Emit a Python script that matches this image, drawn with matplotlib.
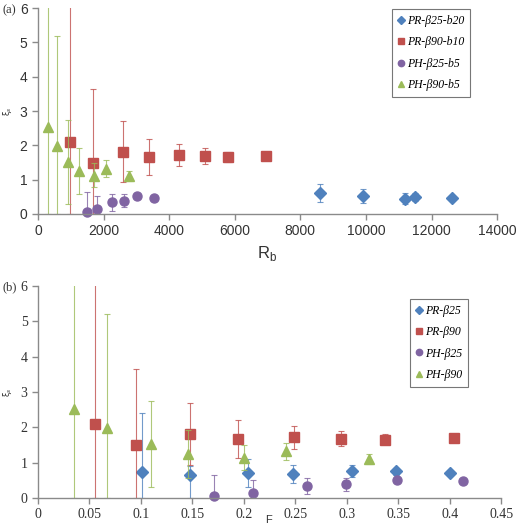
import numpy as np
import matplotlib.pyplot as plt

# %% data, panel (a) -- x = R_b
rb_pr25 = [8600, 9900, 11180, 11500, 12630]
rb_pr90 = [990, 1680, 2580, 3380, 4300, 5100, 5790, 6950]
rb_ph25 = [1480, 1810, 2270, 2620, 3030, 3550]
rb_ph90 = [305, 580, 925, 1240, 1710, 2070, 2780]

# panel (b) -- x = F
f_pr25 = [0.101, 0.148, 0.204, 0.248, 0.305, 0.348, 0.400]
f_pr90 = [0.055, 0.095, 0.148, 0.194, 0.249, 0.294, 0.337, 0.404]
f_ph25 = [0.171, 0.209, 0.261, 0.299, 0.349, 0.413]
f_ph90 = [0.035, 0.067, 0.110, 0.146, 0.200, 0.241, 0.322]

# xi values with lower / upper bounds of the error bars
xi_pr25_a = [0.62, 0.53, 0.44, 0.49, 0.48]
lo_pr25_a = [0.35, 0.32, 0.30, 0.38, 0.44]
hi_pr25_a = [0.87, 0.73, 0.60, 0.62, 0.52]

xi_pr25_b = [0.73, 0.66, 0.70, 0.68, 0.77, 0.75, 0.70]
lo_pr25_b = [0.0, 0.0, 0.30, 0.42, 0.60, 0.65, 0.66]
hi_pr25_b = [2.40, 0.90, 1.10, 0.93, 0.93, 0.85, 0.74]

xi_pr90 = [2.09, 1.49, 1.81, 1.67, 1.72, 1.68, 1.65, 1.70]
lo_pr90 = [0.0, 0.0, 0.92, 1.14, 1.40, 1.47, 1.52, 1.65]
hi_pr90 = [6.5, 3.65, 2.70, 2.20, 2.04, 1.91, 1.80, 1.75]

xi_ph25 = [0.07, 0.14, 0.34, 0.39, 0.51, 0.47]
lo_ph25 = [0.0, 0.0, 0.10, 0.20, 0.47, 0.43]
hi_ph25 = [0.64, 0.52, 0.58, 0.58, 0.55, 0.51]

xi_ph90 = [2.53, 1.97, 1.52, 1.25, 1.12, 1.32, 1.11]
lo_ph90 = [0.0, 0.0, 0.30, 0.58, 0.80, 1.07, 0.95]
hi_ph90 = [6.5, 5.20, 2.75, 1.92, 1.50, 1.57, 1.25]

c_blue = '#4F81BD'
c_red = '#C0504D'
c_purple = '#8064A2'
c_green = '#9BBB59'
grey = '#8a8a8a'


def err(y, lo, hi):
    y = np.array(y)
    return [y - np.array(lo), np.array(hi) - y]


def draw(ax, x, y, lo, hi, color, marker, ms, label):
    ax.errorbar(x, y, yerr=err(y, lo, hi), fmt='none', ecolor=color,
                elinewidth=0.8, capsize=2.5, capthick=0.8, alpha=0.8)
    ax.plot(x, y, linestyle='none', marker=marker, color=color, ms=ms,
            label=label, clip_on=False)


def style(ax, font):
    for s in ['top', 'right']:
        ax.spines[s].set_visible(False)
    for s in ['left', 'bottom']:
        ax.spines[s].set_color(grey)
        ax.spines[s].set_linewidth(1.0)
    ax.tick_params(colors=grey, labelcolor='#333333', length=4, width=1.0,
                   labelsize=10)
    for t in ax.get_xticklabels() + ax.get_yticklabels():
        t.set_family(font)
    ax.set_ylim(0, 6)
    ax.set_yticks(range(7))


fig = plt.figure(figsize=(5.17, 5.29), dpi=100)
ax1 = fig.add_axes([0.0735, 0.5955, 0.888, 0.389])
ax2 = fig.add_axes([0.0735, 0.0586, 0.896, 0.4008])

# %% panel (a)
draw(ax1, rb_pr25, xi_pr25_a, lo_pr25_a, hi_pr25_a, c_blue, 'D', 6, 'PR-β25-b20')
draw(ax1, rb_pr90, xi_pr90, lo_pr90, hi_pr90, c_red, 's', 6.5, 'PR-β90-b10')
draw(ax1, rb_ph25, xi_ph25, lo_ph25, hi_ph25, c_purple, 'o', 6.5, 'PH-β25-b5')
draw(ax1, rb_ph90, xi_ph90, lo_ph90, hi_ph90, c_green, '^', 6.5, 'PH-β90-b5')
ax1.set_xlim(0, 14000)
ax1.set_xticks(range(0, 14001, 2000))
style(ax1, 'Liberation Sans')
ax1.set_xlabel('R$_\\mathregular{b}$', fontsize=12, family='Liberation Sans',
               color='#333333', labelpad=4)

# %% panel (b)
draw(ax2, f_pr25, xi_pr25_b, lo_pr25_b, hi_pr25_b, c_blue, 'D', 6, 'PR-β25')
draw(ax2, f_pr90, xi_pr90, lo_pr90, hi_pr90, c_red, 's', 6.5, 'PR-β90')
draw(ax2, f_ph25, xi_ph25, lo_ph25, hi_ph25, c_purple, 'o', 6.5, 'PH-β25')
draw(ax2, f_ph90, xi_ph90, lo_ph90, hi_ph90, c_green, '^', 6.5, 'PH-β90')
ax2.set_xlim(0, 0.45)
ax2.set_xticks(np.arange(0, 0.451, 0.05))
ax2.set_xticklabels(['0', '0.05', '0.1', '0.15', '0.2', '0.25', '0.3',
                     '0.35', '0.4', '0.45'])
style(ax2, 'Liberation Serif')
# x label of (b) sits at the very bottom edge
fig.text(0.52, 0.008, 'F', fontsize=8, family='Liberation Sans',
         color='#333333', ha='center', va='bottom')

for ax, loc in [(ax1, (0.771, 0.568)), (ax2, (0.803, 0.524))]:
    leg = ax.legend(loc='lower left', bbox_to_anchor=loc, frameon=True,
                    fancybox=False, edgecolor='#555555', borderpad=0.5,
                    labelspacing=0.8, handlelength=0.6, handletextpad=0.15,
                    borderaxespad=0, markerscale=0.7,
                    prop={'family': 'Liberation Serif', 'style': 'italic',
                          'size': 8.5})
    leg.get_frame().set_linewidth(0.8)
    ax.set_ylabel('ξ$_s$', fontsize=6, family='DejaVu Sans', rotation=90,
                  color='#333333')
    ax.yaxis.set_label_coords(-0.052, 0.5)

fig.text(0.004, 0.975, '(a)', family='Liberation Serif', fontsize=9,
         color='#333333')
fig.text(0.004, 0.451, '(b)', family='Liberation Serif', fontsize=9,
         color='#333333')

fig.savefig('out.png', dpi=100)
